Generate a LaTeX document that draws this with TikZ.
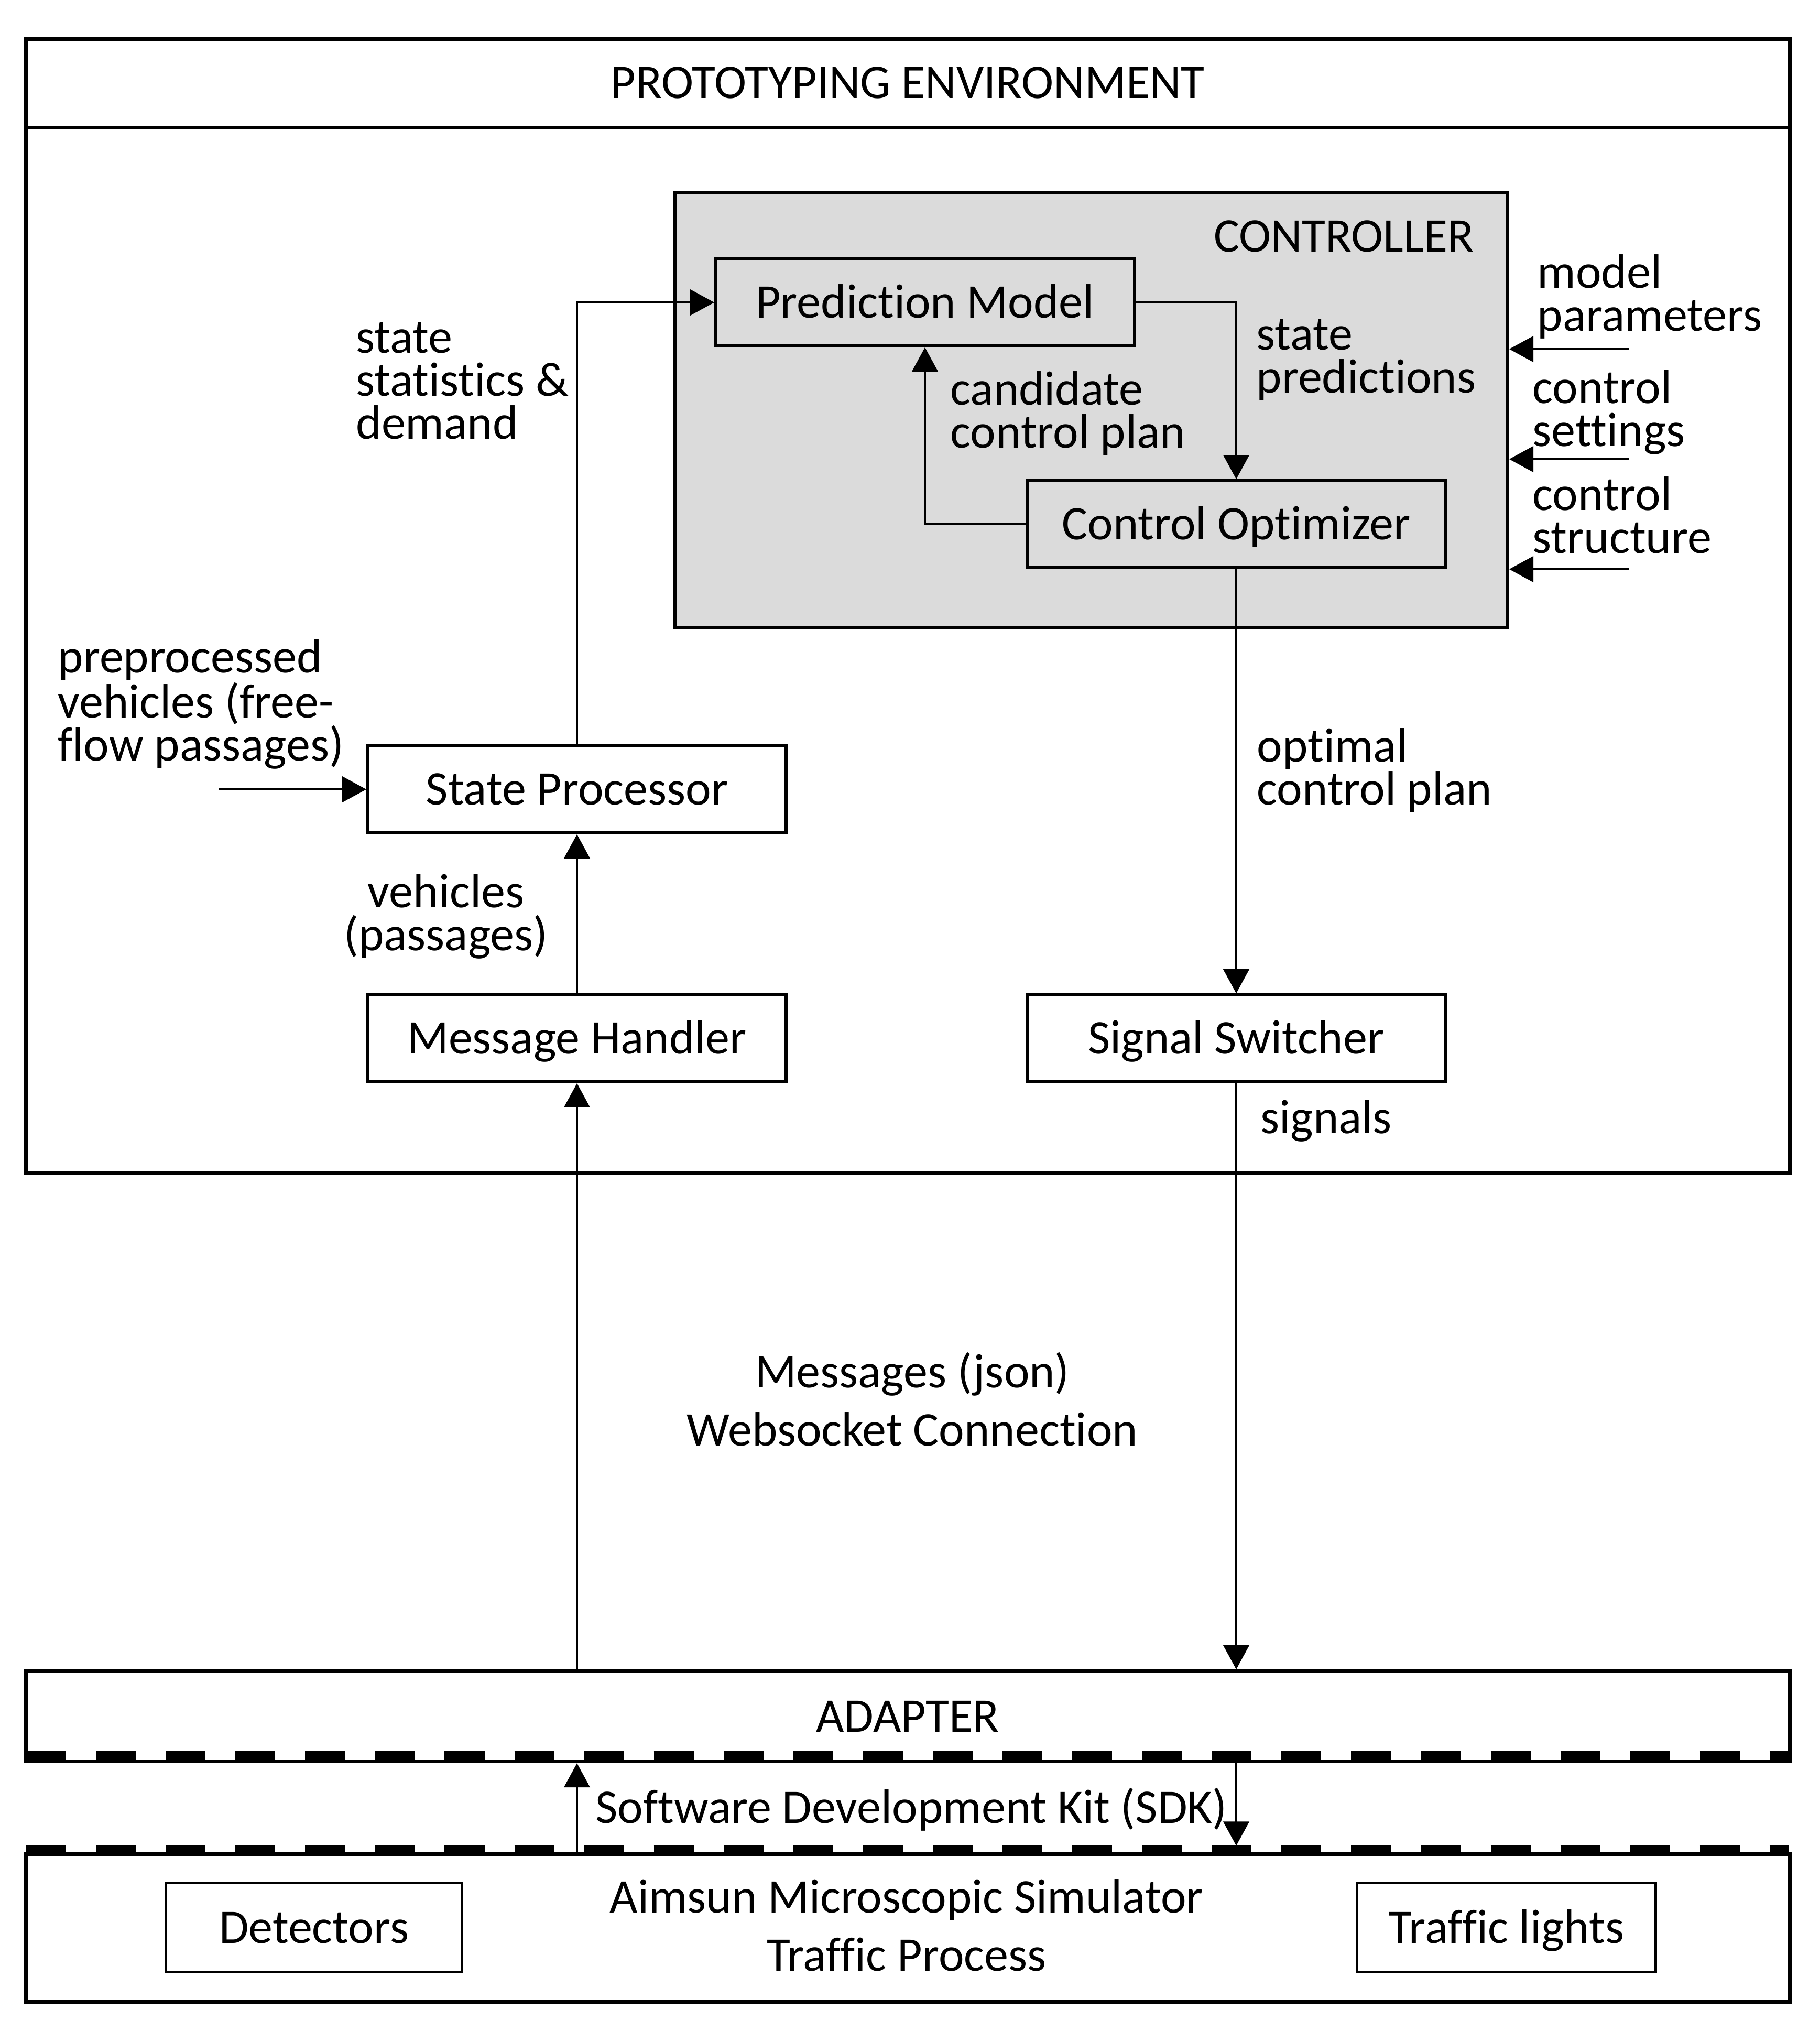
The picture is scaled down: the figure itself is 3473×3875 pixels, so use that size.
\documentclass[tikz,border=0pt]{standalone}
\usepackage{fontspec}
\setmainfont{Carlito}[Ligatures=NoCommon]
\usetikzlibrary{arrows.meta}
\newcommand\lbl{\fontsize{26.2pt}{23.3pt}\selectfont}
\newcommand\lblwide{\fontsize{26.2pt}{31.3pt}\selectfont}

\begin{document}
\begin{tikzpicture}[x=0.01cm, y=-0.01cm,
  blk/.style={draw, line width=0.055cm, minimum width=7.98cm, minimum height=1.66cm,
    inner sep=0pt, font=\lbl, text height=0.595cm, text depth=0pt},
  smallblk/.style={blk, line width=0.045cm, minimum height=1.70cm},
  frame/.style={draw, line width=0.08cm, inner sep=0pt},
  conn/.style={line width=0.04cm, -{Triangle[length=0.46cm, width=0.49cm]}},
  txt/.style={inner sep=0pt, font=\lbl, align=left, anchor=base west},
  ctxt/.style={inner sep=0pt, font=\lblwide, align=center, anchor=base},
  band/.style={line width=0.16cm, dash pattern=on 0.76cm off 0.57cm}
]
\useasboundingbox (0,0) rectangle (3473,3875);

% ---------- prototyping environment ----------
\node[frame, minimum width=33.64cm, minimum height=21.625cm] (env) at (1732,1155.75) {};
\coordinate (hdr) at (0,244);
\draw[line width=0.06cm] (env.west |- hdr) -- (env.east |- hdr);
\node[anchor=base, inner sep=0pt, font=\lbl] (title) at (1732,187) {PROTOTYPING ENVIRONMENT};

% controller
\node[draw, fill=black!14, line width=0.07cm, minimum width=15.87cm, minimum height=8.29cm,
  inner sep=0pt] (ctrl) at (2082.5,782.5) {};
\node[anchor=base east, inner sep=0pt, font=\lbl] (ctrltitle) at (2813,480) {CONTROLLER};

\node[blk] (pm) at (1765,577) {Prediction Model};
\node[blk] (co) at (2359,1000) {Control Optimizer};

% processing chain
\node[blk] (sp) at (1101,1506) {State Processor};
\node[blk] (mh) at (1101,1981) {Message Handler};
\node[blk] (ss) at (2359,1981) {Signal Switcher};

% labels (anchored at the baseline of their last line)
\node[txt] (lsp) at (2397,749) {state\\predictions};
\node[txt] (lcc) at (1813,854) {candidate\\control plan};
\node[txt] (lmp) at (2933,631) {model\\parameters};
\node[txt] (lcs) at (2924,851) {control\\settings};
\node[txt] (lcst) at (2924,1055) {control\\structure};
\node[txt] (lss) at (679,837) {state\\statistics \&\\demand};
\node[txt] (lpre) at (110,1451) {preprocessed\\vehicles (free-\\flow passages)};
\node[inner sep=0pt, font=\lbl, align=center, anchor=base] (lveh) at (851,1813) {vehicles\\(passages)};
\node[txt] (lopt) at (2398,1535) {optimal\\control plan};
\node[txt] (lsig) at (2405,2162) {signals};

% connectors inside the environment
\draw[conn] (sp.north) |- (pm.west);
\draw[conn] (pm.east) -| (co.north);
\draw[conn] (co.west) -| (pm.south);
\draw[conn] (mh.north) -- (sp.south);
\draw[conn] (co.south) -- (ss.north);

\coordinate (preIn) at (418,1506);
\draw[conn] (preIn) -- (sp.west);

\coordinate (mpIn) at (3109,666);
\coordinate (csIn) at (3109,876);
\coordinate (cstIn) at (3109,1086);
\draw[conn] (mpIn) -- (mpIn -| ctrl.east);
\draw[conn] (csIn) -- (csIn -| ctrl.east);
\draw[conn] (cstIn) -- (cstIn -| ctrl.east);

% ---------- websocket ----------
\node[ctxt] (msg) at (1741,2758) {Messages (json)\\Websocket Connection};

% ---------- adapter ----------
\node[draw, line width=0.07cm, inner sep=0pt, minimum width=33.64cm, minimum height=1.72cm,
  font=\lbl, text height=0.595cm, text depth=0pt] (adapter) at (1732,3274.5) {ADAPTER};
\draw[band] (50,3349) -- (3414,3349);

% ---------- simulator ----------
\node[frame, minimum width=33.64cm, minimum height=2.815cm] (sim) at (1732,3678.25) {};
\draw[band, line width=0.13cm] (50,3527) -- (3414,3527);
\node[ctxt] (simtxt) at (1730,3760) {Aimsun Microscopic Simulator\\Traffic Process};
\node[smallblk, minimum width=5.65cm] (det) at (599,3678) {Detectors};
\node[smallblk, minimum width=5.70cm] (tl) at (2874.5,3678) {Traffic lights};

\node[inner sep=0pt, font=\lbl, anchor=base] (sdk) at (1739,3478) {Software Development Kit (SDK)};

% connectors between the layers
\draw[conn] (mh.south |- adapter.north) -- (mh.south);
\draw[conn] (ss.south) -- (ss.south |- adapter.north);
\draw[conn] (mh.south |- sim.north) -- (mh.south |- adapter.south);
\draw[conn, shorten >=0.12cm] (ss.south |- adapter.south) -- (ss.south |- sim.north);
\end{tikzpicture}
\end{document}
